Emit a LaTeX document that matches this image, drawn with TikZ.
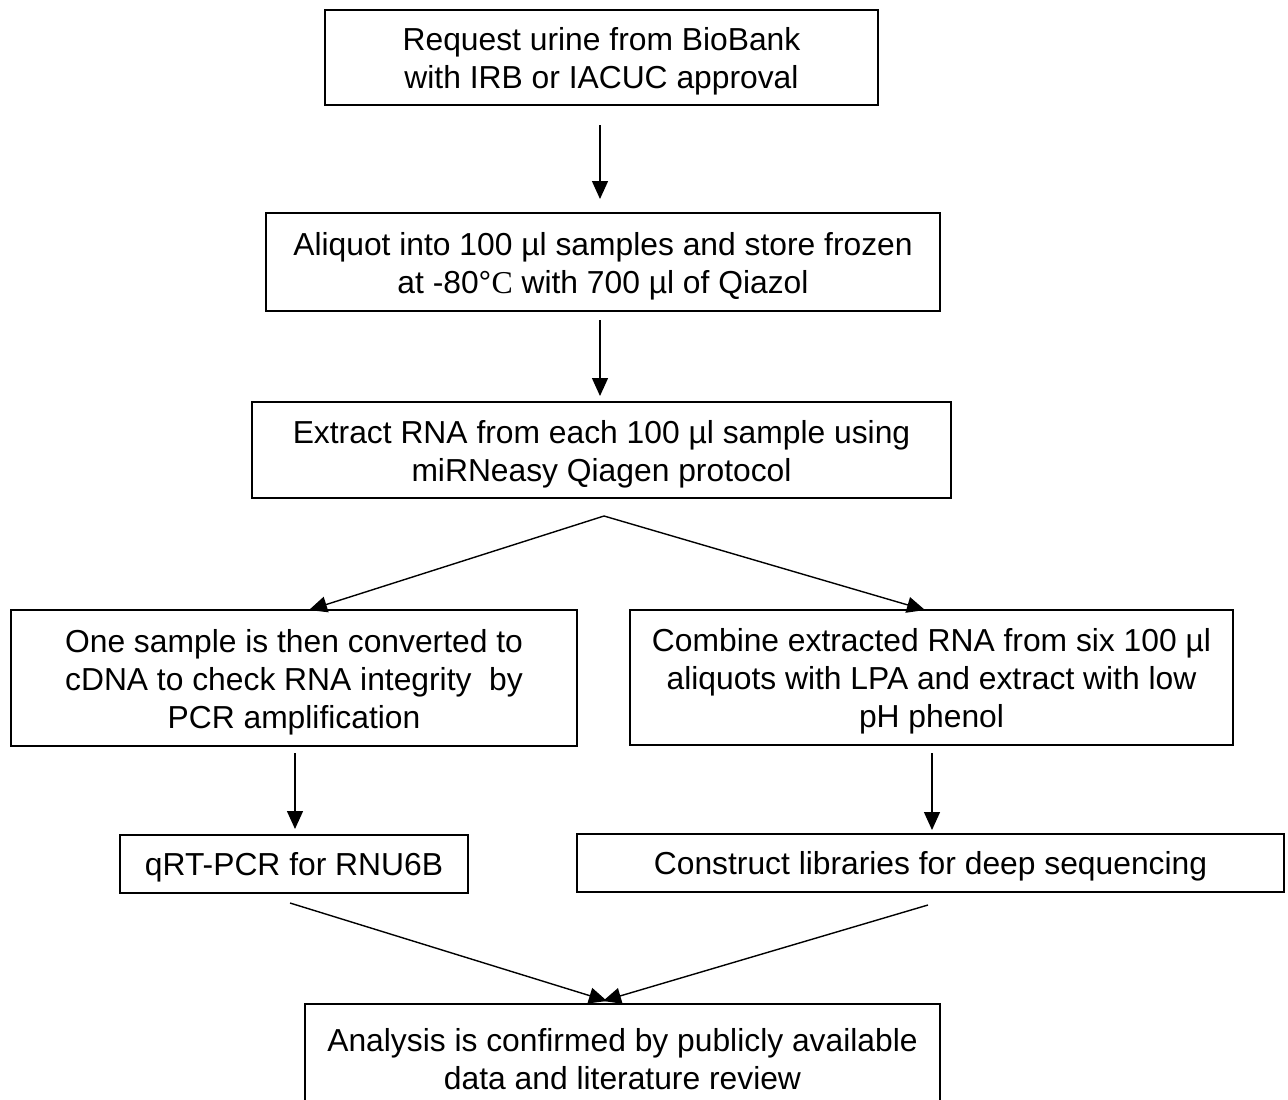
\documentclass[tikz,border=0pt]{standalone}
\usepackage{fontspec}
\setmainfont{Liberation Sans}
\newfontfamily\serifC{Liberation Serif}
\usetikzlibrary{arrows.meta,calc}
\begin{document}
\begin{tikzpicture}[x=1pt,y=-1pt,
  frame/.style={draw=black,line width=1.6pt,inner sep=0pt},
  txt/.style={align=center,inner sep=0pt,
    font=\fontsize{31.8}{38}\selectfont,text=black},
  arr/.style={line width=1.4pt,-{Triangle[length=18pt,width=16pt]}}]
\useasboundingbox[fill=white] (0,0) rectangle (1288,1100);
\node[frame,minimum width=553pt,minimum height=95pt] (b1) at (601.5,57.5) {};
\node[txt] (t1) at ($(b1.center)+(0,4)$)
  {Request urine from BioBank\\with IRB or IACUC approval};
\node[frame,minimum width=674pt,minimum height=98pt] (b2) at (603,262) {};
\node[txt] (t2) at ($(b2.center)+(0,4)$)
  {Aliquot into 100 µl samples and store frozen\\at -80°{\serifC C} with 700 µl of Qiazol};
\node[frame,minimum width=699pt,minimum height=96pt] (b3) at (601.5,450) {};
\node[txt] (t3) at ($(b3.center)+(0,4)$)
  {Extract RNA from each 100 µl sample using\\miRNeasy Qiagen protocol};
\node[frame,minimum width=566pt,minimum height=136pt] (b4) at (294,678) {};
\node[txt] (t4) at ($(b4.center)+(0,4)$)
  {One sample is then converted to\\cDNA to check RNA integrity\ \ by\\PCR amplification};
\node[frame,minimum width=603pt,minimum height=135pt] (b5) at (931.5,677.5) {};
\node[txt] (t5) at ($(b5.center)+(0,4)$)
  {Combine extracted RNA from six 100 µl\\aliquots with LPA and extract with low\\pH phenol};
\node[frame,minimum width=348pt,minimum height=58pt] (b6) at (294,864) {};
\node[txt] (t6) at ($(b6.center)+(0,3)$) {qRT-PCR for RNU6B};
\node[frame,minimum width=707pt,minimum height=58pt] (b7) at (930.5,863) {};
\node[txt] (t7) at ($(b7.center)+(0,3)$) {Construct libraries for deep sequencing};
\node[frame,minimum width=635pt,minimum height=102pt] (b8) at (622.5,1055) {};
\node[txt] (t8) at ($(b8.center)+(0,4)$)
  {Analysis is confirmed by publicly available\\data and literature review};
% connector points
\coordinate (a1s) at (600,125);  \coordinate (a1e) at (600,199);
\coordinate (a2s) at (600,320);  \coordinate (a2e) at (600,396);
\coordinate (split) at (604,516);
\coordinate (a3e) at (309,610);  \coordinate (a4e) at (925,610);
\coordinate (a5s) at (295,753);  \coordinate (a5e) at (295,829);
\coordinate (a6s) at (932,753);  \coordinate (a6e) at (932,830);
\coordinate (a7s) at (290,903);  \coordinate (a7e) at (607,1001);
\coordinate (a8s) at (928,905);  \coordinate (a8e) at (603,1001);
\draw[arr] (a1s) -- (a1e);
\draw[arr] (a2s) -- (a2e);
\draw[arr] (split) -- (a3e);
\draw[arr] (split) -- (a4e);
\draw[arr] (a5s) -- (a5e);
\draw[arr] (a6s) -- (a6e);
\draw[arr] (a7s) -- (a7e);
\draw[arr] (a8s) -- (a8e);
\end{tikzpicture}
\end{document}
